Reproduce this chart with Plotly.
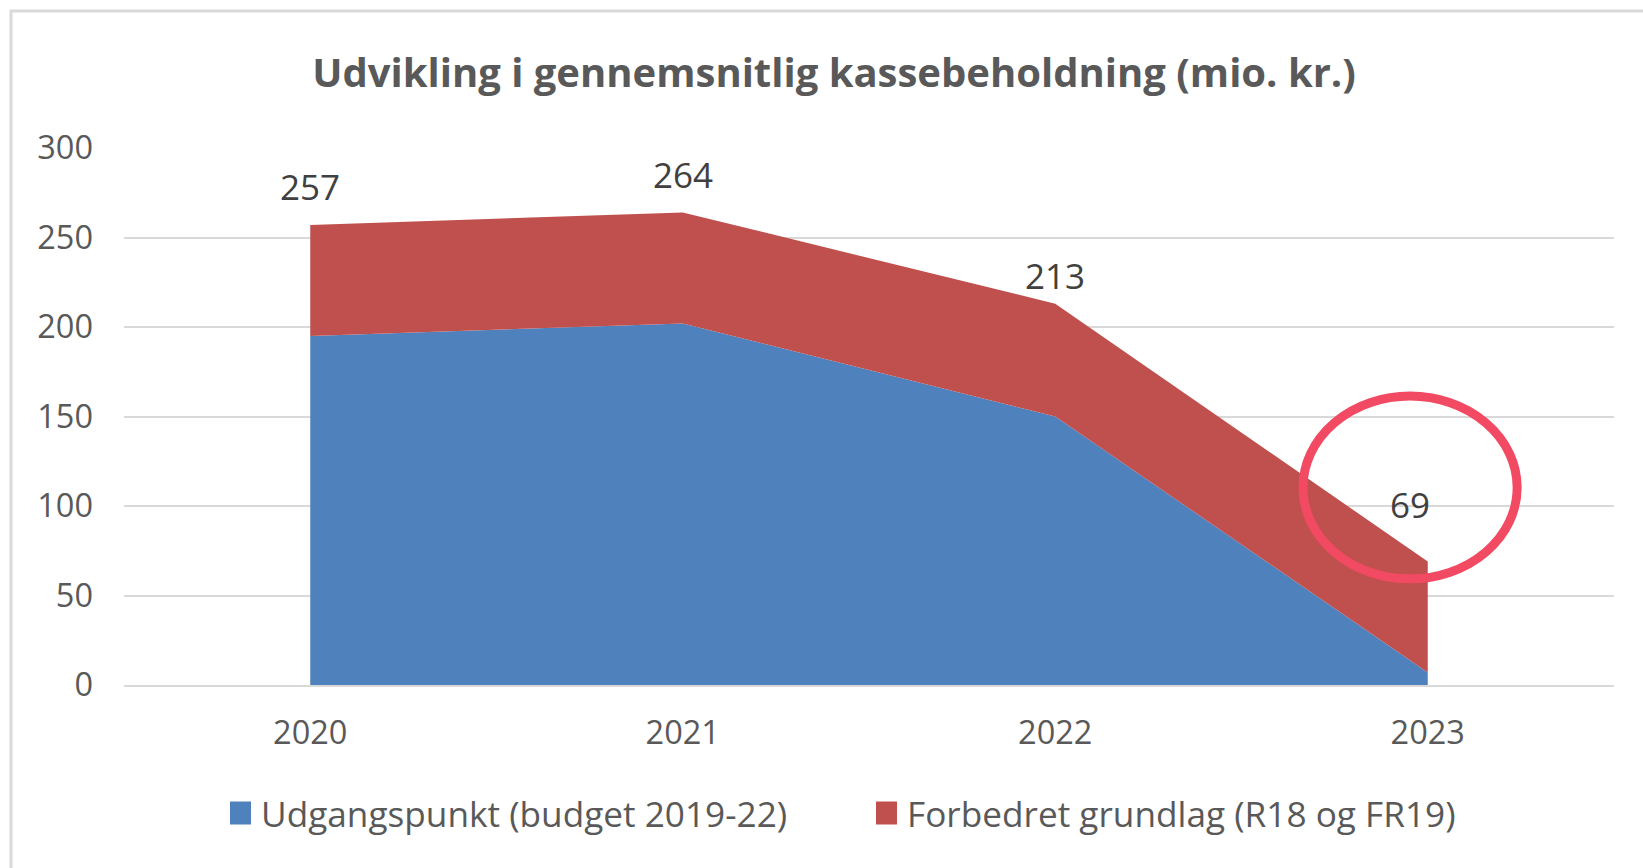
import plotly.graph_objects as go

years = ["2020", "2021", "2022", "2023"]
udgangspunkt = [195, 202, 150, 7]
forbedret = [62, 62, 63, 62]
totals = [257, 264, 213, 69]
y_ticks = [0, 50, 100, 150, 200, 250, 300]

title = "Udvikling i gennemsnitlig kassebeholdning (mio. kr.)"
name_blue = "Udgangspunkt (budget 2019-22)"
name_red = "Forbedret grundlag (R18 og FR19)"

BLUE = "#4F81BD"
RED = "#C0504D"
GRAY_TXT = "#595959"
GRID = "#D9D9D9"
FONT = "Open Sans"

W, H = 1643, 868
ML, MR, MT, MB = 124, 29, 148, 183
pw = W - ML - MR
ph = H - MT - MB

fig = go.Figure()
fig.add_trace(go.Scatter(
    x=years, y=udgangspunkt, name=name_blue, stackgroup="one",
    mode="none", fillcolor=BLUE, hoverinfo="x+y", showlegend=False))
fig.add_trace(go.Scatter(
    x=years, y=forbedret, name=name_red, stackgroup="one",
    mode="none", fillcolor=RED, hoverinfo="x+y", showlegend=False))

# data labels for the totals (placed via category index on the x axis)
label_shift_y = [38, 38, 28, 57]
label_shift_x = [0, 0, 0, -18]
for i, tot in enumerate(totals):
    fig.add_annotation(
        x=i, y=tot, text=str(tot), showarrow=False,
        xref="x", yref="y", yshift=label_shift_y[i], xshift=label_shift_x[i],
        font=dict(family=FONT, size=35, color="#404040"))

# highlight circle around the 2023 label
fig.add_shape(type="circle", xref="x", yref="y",
              x0=2.665, x1=3.24, y0=59.3, y1=161.4,
              line=dict(color="#F24A62", width=9), layer="above")

# outer chart border (light gray)
fig.add_shape(type="rect", xref="paper", yref="paper",
              x0=(11 - ML) / pw, x1=(W + 40 - ML) / pw,
              y0=-(MB + 40) / ph, y1=(H - MB - 11) / ph,
              line=dict(color="#D9D9D9", width=3), layer="below")

# legend drawn as swatches + text
legend_items = [(name_blue, BLUE, 230), (name_red, RED, 876)]
ly = 813
for name, col, px in legend_items:
    fig.add_shape(type="rect", xref="paper", yref="paper",
                  x0=(px - ML) / pw, x1=(px + 21 - ML) / pw,
                  y0=(H - MB - (ly + 11.5)) / ph, y1=(H - MB - (ly - 11.5)) / ph,
                  line=dict(width=0), fillcolor=col)
    fig.add_annotation(x=(px + 29 - ML) / pw, y=(H - MB - ly) / ph,
                       xref="paper", yref="paper", xanchor="left",
                       yanchor="middle", showarrow=False, text=name,
                       font=dict(family=FONT, size=35.2, color=GRAY_TXT))

fig.update_layout(
    width=W, height=H,
    margin=dict(l=ML, r=MR, t=MT, b=MB),
    paper_bgcolor="white", plot_bgcolor="white",
    title=dict(text=title, x=834 / W, xref="container", xanchor="center",
               y=1 - 73 / H, yref="container", yanchor="middle",
               font=dict(family=FONT, size=40, color=GRAY_TXT, weight="bold")),
    font=dict(family=FONT, color=GRAY_TXT),
    showlegend=False,
    xaxis=dict(type="category", range=[-0.5, 3.5], showgrid=False,
               showline=True, linecolor=GRID, linewidth=1.5,
               ticks="", tickfont=dict(family=FONT, size=32.5, color=GRAY_TXT),
               ticklabelstandoff=18, fixedrange=True),
    yaxis=dict(range=[0, 300], tickvals=y_ticks, showgrid=True,
               gridcolor=GRID, gridwidth=1.5, zeroline=False,
               showline=False, ticks="",
               tickfont=dict(family=FONT, size=32.5, color=GRAY_TXT),
               ticklabelstandoff=30, fixedrange=True),
)

fig.write_html("out.html",
               config={"displayModeBar": False},
               post_script="document.body.style.margin='0';"
                           "document.body.style.overflow='hidden';")
